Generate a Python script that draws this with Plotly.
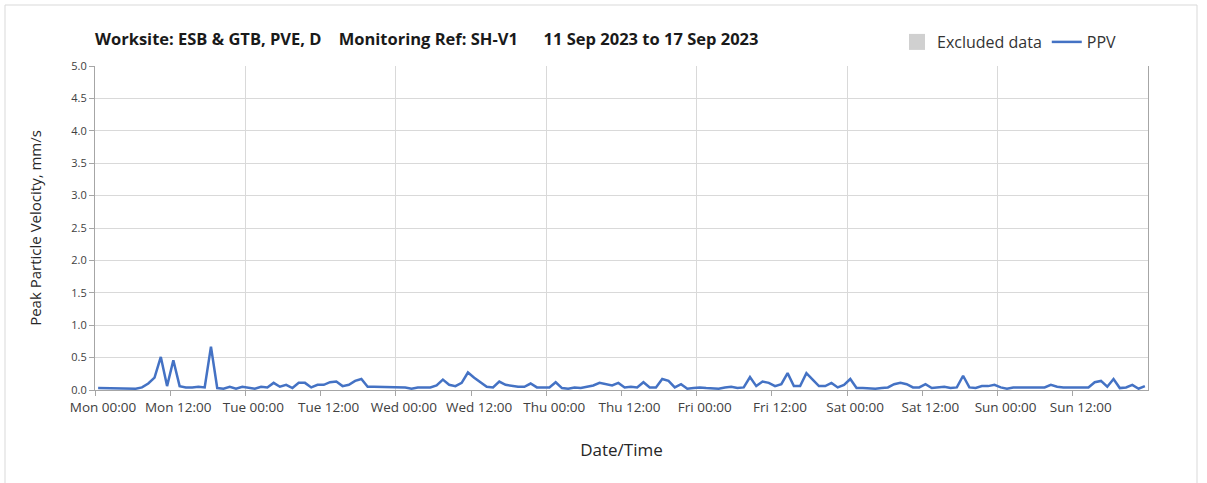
import pandas as pd
import plotly.graph_objects as go

# Hourly PPV readings (mm/s), 11 Sep 2023 00:30 onward
ppv = [
    0.03, 0.03, 0.03, 0.02, 0.02, 0.02, 0.02, 0.04, 0.10, 0.19, 0.51, 0.06,
    0.46, 0.06, 0.04, 0.04, 0.05, 0.04, 0.67, 0.03, 0.02, 0.05, 0.02, 0.05,
    0.03, 0.02, 0.05, 0.04, 0.11, 0.05, 0.08, 0.03, 0.11, 0.11, 0.04, 0.08,
    0.08, 0.12, 0.13, 0.06, 0.08, 0.14, 0.17, 0.05, 0.05, 0.05, 0.04, 0.05,
    0.04, 0.04, 0.02, 0.04, 0.04, 0.04, 0.07, 0.16, 0.08, 0.06, 0.11, 0.27,
    0.19, 0.12, 0.05, 0.04, 0.13, 0.08, 0.06, 0.05, 0.05, 0.10, 0.04, 0.04,
    0.04, 0.12, 0.03, 0.02, 0.04, 0.03, 0.05, 0.07, 0.11, 0.09, 0.07, 0.11,
    0.04, 0.05, 0.04, 0.12, 0.04, 0.04, 0.17, 0.14, 0.04, 0.09, 0.02, 0.03,
    0.04, 0.03, 0.02, 0.02, 0.04, 0.05, 0.03, 0.04, 0.20, 0.06, 0.13, 0.11,
    0.06, 0.09, 0.26, 0.06, 0.06, 0.26, 0.16, 0.06, 0.06, 0.11, 0.04, 0.08,
    0.17, 0.03, 0.03, 0.02, 0.02, 0.03, 0.04, 0.09, 0.11, 0.09, 0.04, 0.04,
    0.09, 0.03, 0.04, 0.05, 0.03, 0.04, 0.22, 0.04, 0.03, 0.06, 0.06, 0.08,
    0.04, 0.02, 0.04, 0.04, 0.04, 0.04, 0.04, 0.04, 0.08, 0.05, 0.04, 0.04,
    0.04, 0.04, 0.04, 0.12, 0.14, 0.05, 0.17, 0.03, 0.04, 0.08, 0.02, 0.06,
]
times = pd.date_range("2023-09-11 00:30", periods=len(ppv), freq="h")

x_start = "2023-09-11 00:00"
x_end = "2023-09-18 00:00"
tick_times = pd.date_range(x_start, periods=14, freq="12h")
tick_labels = [
    "Mon 00:00", "Mon 12:00", "Tue 00:00", "Tue 12:00", "Wed 00:00", "Wed 12:00",
    "Thu 00:00", "Thu 12:00", "Fri 00:00", "Fri 12:00", "Sat 00:00", "Sat 12:00",
    "Sun 00:00", "Sun 12:00",
]
y_ticks = [0.0, 0.5, 1.0, 1.5, 2.0, 2.5, 3.0, 3.5, 4.0, 4.5, 5.0]

FONT = "Open Sans"
GRID = "#d9d9d9"
AXIS = "#a6a6a6"

fig = go.Figure()
fig.add_trace(go.Scatter(
    x=[None], y=[None], mode="markers", name="Excluded data",
    marker=dict(symbol="square", size=16, color="#d0d0d0"),
))
fig.add_trace(go.Scatter(
    x=times, y=ppv, mode="lines", name="PPV",
    line=dict(color="#4472C4", width=2.5),
))
# helper trace for the daily gridline axis
fig.add_trace(go.Scatter(
    x=[x_start], y=[None], xaxis="x2", mode="lines", showlegend=False,
    hoverinfo="skip",
))

fig.update_layout(
    width=1207, height=483,
    paper_bgcolor="white", plot_bgcolor="white",
    margin=dict(l=95, r=59, t=66, b=93),
    font=dict(family=FONT, color="#404040"),
    title=dict(
        text="<b>Worksite: ESB &amp; GTB, PVE, D&nbsp;&nbsp;&nbsp;&nbsp;Monitoring Ref: SH-V1"
             "&nbsp;&nbsp;&nbsp;&nbsp;&nbsp;&nbsp;11 Sep 2023 to 17 Sep 2023</b>",
        x=95 / 1207, xanchor="left", xref="container",
        y=1 - 39 / 483, yanchor="middle", yref="container",
        font=dict(family=FONT, size=16.5, color="#1a1a1a"),
    ),
    legend=dict(
        orientation="h", x=(1122 - 95) / 1053, xanchor="right", y=(390 - 42) / 324,
        yanchor="middle",
        font=dict(family=FONT, size=16, color="#333333"),
        itemwidth=30, bgcolor="rgba(0,0,0,0)",
    ),
    xaxis=dict(
        type="date", range=[x_start, x_end],
        tickmode="array", tickvals=tick_times, ticktext=tick_labels,
        showgrid=False, ticks="outside", ticklen=5, tickcolor=AXIS,
        showline=True, linecolor=AXIS, linewidth=1,
        tickfont=dict(size=13.5, color="#404040"), ticklabelshift=8,
        title=dict(text="Date/Time", font=dict(size=17, color="#262626"), standoff=28),
        zeroline=False,
    ),
    xaxis2=dict(
        type="date", range=[x_start, x_end], overlaying="x",
        dtick=86400000, tick0=x_start, showgrid=True, gridcolor=GRID,
        showticklabels=False, ticks="", showline=False, zeroline=False,
    ),
    yaxis=dict(
        range=[0, 5], tickmode="array", tickvals=y_ticks,
        ticktext=[f"{v:.1f}" for v in y_ticks],
        showgrid=True, gridcolor=GRID, gridwidth=1,
        ticks="outside", ticklen=5, tickcolor=AXIS,
        showline=True, linecolor=AXIS, linewidth=1, mirror=True,
        tickfont=dict(size=11, color="#404040"),
        title=dict(text="Peak Particle Velocity, mm/s",
                   font=dict(size=15, color="#262626"), standoff=26),
        zeroline=False,
    ),
    shapes=[dict(
        type="rect", xref="paper", yref="paper",
        x0=-90 / 1053, x1=1102 / 1053, y0=-100 / 324, y1=385 / 324,
        line=dict(color="#d9d9d9", width=1), layer="below",
    )],
    showlegend=True,
)

fig.write_html("out.html", config={"displayModeBar": False},
               post_script="document.body.style.margin='0';")
